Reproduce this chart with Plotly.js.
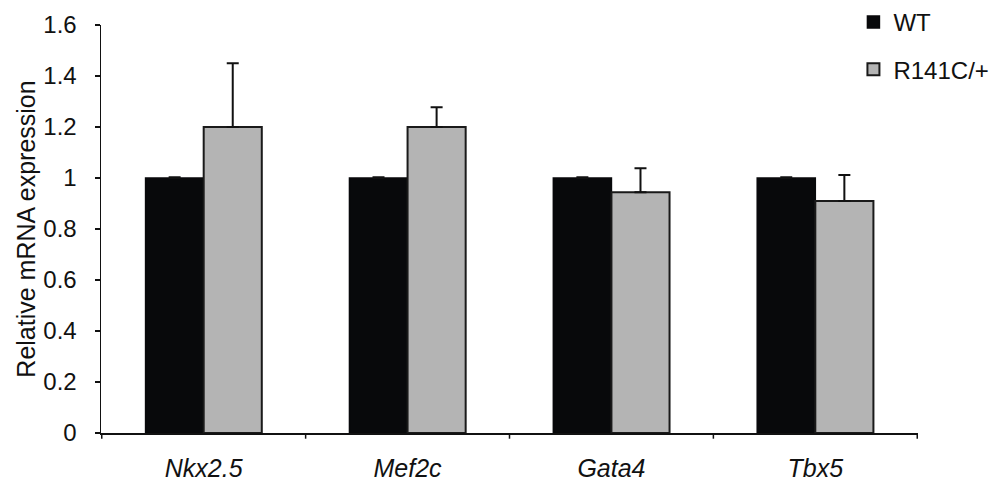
<!DOCTYPE html>
<html>
<head>
<meta charset="utf-8">
<script src="https://cdn.plot.ly/plotly-3.0.1.min.js"></script>
<style>html,body{margin:0;padding:0;background:#fff;}#chart{width:997px;height:483px;}</style>
</head>
<body>
<div id="chart"></div>
<script>
const genes = ["Nkx2.5", "Mef2c", "Gata4", "Tbx5"];
const geneLabels = ["<i>Nkx2.5</i>", "<i>Mef2c</i>", "<i>Gata4</i>", "<i>Tbx5</i>"];
const wtValues = [1.0, 1.0, 1.0, 1.0];
const wtErrors = [0.003, 0.003, 0.003, 0.003];
const mutValues = [1.2, 1.2, 0.944, 0.91];
const mutErrors = [0.25, 0.077, 0.094, 0.102];
const yTicks = [0, 0.2, 0.4, 0.6, 0.8, 1, 1.2, 1.4, 1.6];
const yTickText = ["0", "0.2", "0.4", "0.6", "0.8", "1", "1.2", "1.4", "1.6"];

const font = "Liberation Sans, Arial, sans-serif";

const traces = [
  {
    type: "bar", name: "WT", x: geneLabels, y: wtValues,
    marker: {color: "#08090b", line: {color: "#08090b", width: 1.5}},
    error_y: {type: "data", array: wtErrors, symmetric: false, arrayminus: [0,0,0,0], color: "#111", thickness: 2, width: 6},
    legendgroup: "a"
  },
  {
    type: "bar", name: "R141C/+", x: geneLabels, y: mutValues,
    marker: {color: "#b4b4b4", line: {color: "#1a1a1a", width: 2}},
    error_y: {type: "data", array: mutErrors, symmetric: false, arrayminus: [0,0,0,0], color: "#111", thickness: 2, width: 6},
    legendgroup: "b"
  }
];

const layout = {
  width: 997, height: 483,
  margin: {l: 101, r: 79, t: 25, b: 50, autoexpand: false},
  paper_bgcolor: "#fff", plot_bgcolor: "#fff",
  barmode: "group", bargap: 0.43, bargroupgap: 0,
  font: {family: font, color: "#111", size: 24},
  showlegend: true,
  legend: {
    xref: "container", yref: "container",
    x: 0.856, y: 1.02, xanchor: "left", yanchor: "top",
    traceorder: "grouped", tracegroupgap: 13,
    font: {family: font, size: 24, color: "#111"},
    bgcolor: "rgba(0,0,0,0)", itemwidth: 30
  },
  xaxis: {
    type: "category", automargin: false,
    showline: true, linecolor: "#111", linewidth: 1.5,
    ticks: "", showgrid: false, zeroline: false,
    tickfont: {family: font, size: 25, color: "#111"},
    ticklabelstandoff: 12,
    fixedrange: true
  },
  yaxis: {
    range: [0, 1.6], tickvals: yTicks, ticktext: yTickText, automargin: false,
    showline: true, linecolor: "#111", linewidth: 1.5,
    ticks: "outside", ticklen: 5, tickwidth: 1.5, tickcolor: "#111",
    ticklabelstandoff: 13,
    showgrid: false, zeroline: false,
    tickfont: {family: font, size: 24, color: "#111"},
    title: {text: "Relative mRNA expression", font: {family: font, size: 25, color: "#111"}, standoff: 0},
    fixedrange: true
  },
  shapes: genes.concat([""]).map((g, i) => ({
    type: "line", xref: "x", yref: "paper",
    x0: i - 0.5, x1: i - 0.5, y0: 0, y1: -0.014,
    line: {color: "#111", width: 1.5}
  }))
};

Plotly.newPlot("chart", traces, layout, {displayModeBar: false, staticPlot: true});
</script>
</body>
</html>
